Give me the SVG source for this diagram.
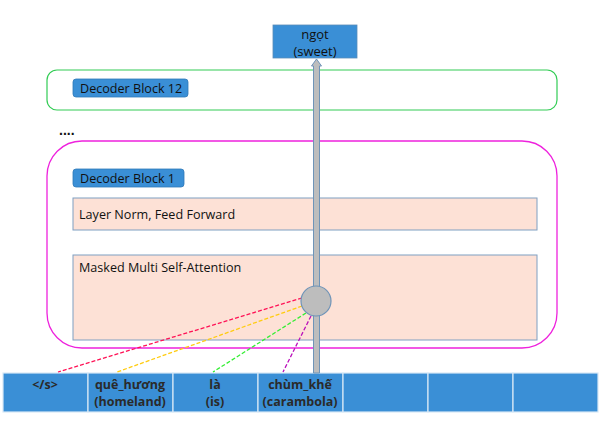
<svg xmlns="http://www.w3.org/2000/svg" width="612" height="421" viewBox="0 0 612 421">
<style>
.lbl{fill:#3a8fd6;stroke:#2e78b8;stroke-width:0.8}
.lt{font-family:"Open Sans","Liberation Sans",sans-serif;font-size:12.6px;fill:#111}
.pink{fill:#fde1d6;stroke:#7f9fc2;stroke-width:1}
.cell{fill:#3a8fd6;stroke:#d8e8f6;stroke-width:1.2}
.ct{font-family:"Open Sans","Liberation Sans",sans-serif;font-size:12.5px;font-weight:bold;fill:#2a2a2a;text-anchor:middle}
.ot{font-family:"Open Sans","Liberation Sans",sans-serif;font-size:13px;fill:#111;text-anchor:middle}
.dash{fill:none;stroke-width:1.3;stroke-dasharray:4 2}
</style>
<rect width="612" height="421" fill="#fff"/>
<g id="block12">
<rect x="47" y="70" width="510" height="40" rx="10" fill="none" stroke="#33cc55" stroke-width="1.2"/>
<rect class="lbl" x="73" y="79" width="115" height="18" rx="3"/>
<text class="lt" x="80" y="92.5">Decoder Block 12</text>
</g>
<g id="dots"><text x="59" y="135" font-family="Liberation Sans,sans-serif" font-size="14" font-weight="bold" fill="#111">....</text></g>
<g id="block1">
<rect x="47" y="141" width="510" height="207" rx="35" fill="none" stroke="#ee22dd" stroke-width="1.3"/>
<rect class="lbl" x="73" y="169" width="111" height="18" rx="3"/>
<text class="lt" x="80" y="182.5">Decoder Block 1</text>
</g>
<g id="ffn">
<rect class="pink" x="73" y="198" width="464" height="32"/>
<text class="lt" x="79" y="219">Layer Norm, Feed Forward</text>
</g>
<g id="attn">
<rect class="pink" x="73" y="255" width="464" height="85"/>
<text class="lt" x="79" y="272">Masked Multi Self-Attention</text>
</g>
<g id="tokens">
<rect class="cell" x="3" y="373" width="85" height="39"/>
<rect class="cell" x="88" y="373" width="85" height="39"/>
<rect class="cell" x="173" y="373" width="85" height="39"/>
<rect class="cell" x="258" y="373" width="85" height="39"/>
<rect class="cell" x="343" y="373" width="85" height="39"/>
<rect class="cell" x="428" y="373" width="85" height="39"/>
<rect class="cell" x="513" y="373" width="85" height="39"/>
<text class="ct" x="45" y="389">&lt;/s&gt;</text>
<text class="ct" x="130" y="389">quê_hương</text>
<text class="ct" x="130" y="406">(homeland)</text>
<text class="ct" x="215" y="389">là</text>
<text class="ct" x="215" y="406">(is)</text>
<text class="ct" x="300" y="389">chùm_khế</text>
<text class="ct" x="300" y="406">(carambola)</text>
</g>
<g id="connectors">
<line class="dash" x1="302" y1="298" x2="58" y2="372" stroke="#ff1155"/>
<line class="dash" x1="302" y1="306" x2="117" y2="372" stroke="#ffcc11"/>
<line class="dash" x1="306" y1="313" x2="213" y2="372" stroke="#33ee33"/>
<line class="dash" x1="311" y1="316" x2="283" y2="372" stroke="#bb11bb"/>
<path d="M313.5 373 V66 H311.5 L316.5 59 L321.5 66 H319.5 V373 Z" fill="#bdbdbd" stroke="#6f94b8" stroke-width="1"/>
</g>
<g id="attnnode"><circle cx="316" cy="301" r="15" fill="#bdbdbd" stroke="#6f94b8" stroke-width="1.2"/></g>
<g id="output">
<rect x="273" y="25" width="84" height="33" fill="#3a8fd6" stroke="#5a8cb8" stroke-width="0.8"/>
<text class="ot" x="315" y="39">ngọt</text>
<text class="ot" x="315" y="55.5">(sweet)</text>
</g>
</svg>
